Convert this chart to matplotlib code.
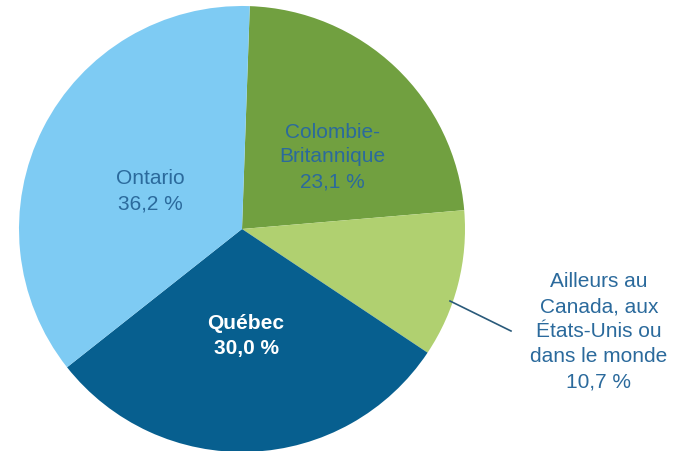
import matplotlib.pyplot as plt

# Données
regions = ['Colombie-\nBritannique', 'Ailleurs au\nCanada, aux\nÉtats-Unis ou\ndans le monde', 'Québec', 'Ontario']
parts = [23.1, 10.7, 30.0, 36.2]
couleurs = ['#71a040', '#b0d070', '#075f8f', '#7ecbf3']

plt.rcParams['font.family'] = ['Liberation Sans', 'DejaVu Sans']
texte = '#2b6a9c'

fig = plt.figure(figsize=(6.75, 4.52), dpi=100)
# axes placé pour que le centre soit vers (242, 230) px et rayon ~223 px
ax = fig.add_axes([19 / 675, -1 / 452, 446 / 675, 446 / 452])
wedges, _ = ax.pie(parts, colors=couleurs, startangle=88, counterclock=False,
                   radius=1, wedgeprops=dict(linewidth=0))
ax.set_xlim(-1, 1)
ax.set_ylim(-1, 1)
ax.set_aspect('equal')
ax.axis('off')

def etiquette(i):
    return regions[i] + '\n' + f'{parts[i]:.1f}'.replace('.', ',') + ' %'

# conversion pixels -> coordonnées des données
def px(x, y):
    return ((x - 242) / 223, (230 - y) / 223)

ax.text(*px(332, 157), etiquette(0), ha='center', va='center', fontsize=15,
        color=texte, linespacing=1.4)
ax.text(*px(150, 191), etiquette(3), ha='center', va='center', fontsize=15,
        color=texte, linespacing=1.4)
ax.text(*px(246, 336), etiquette(2), ha='center', va='center', fontsize=15,
        color='white', fontweight='bold', linespacing=1.4)

# étiquette extérieure avec trait de rappel
x0, y0 = px(450, 302)
x1, y1 = px(511, 332)
ax.plot([x0, x1], [y0, y1], color='#2a5a7a', lw=1.2, clip_on=False)
ax.text(*px(599, 332), etiquette(1), ha='center', va='center', fontsize=15,
        color=texte, linespacing=1.4)

fig.savefig('out.png', dpi=100)
